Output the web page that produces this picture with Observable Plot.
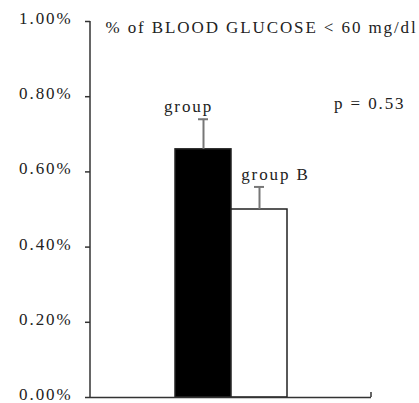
<!DOCTYPE html>
<html>
<head>
<meta charset="utf-8">
<script src="https://cdn.jsdelivr.net/npm/d3@7"></script>
<script src="https://cdn.jsdelivr.net/npm/@observablehq/plot@0.6"></script>
<style>
  html, body { margin: 0; padding: 0; background: #fff; }
</style>
</head>
<body>
<div id="chart"></div>
<script>
const groups = ["group", "group B"];
const values = [0.66, 0.50];
const errors = [0.08, 0.06];
const fills = ["#000000", "#ffffff"];
const yTicks = [0, 0.2, 0.4, 0.6, 0.8, 1.0];
const title = "% of BLOOD GLUCOSE < 60 mg/dl";
const pText = "p = 0.53";

const data = groups.map((g, i) => ({group: g, value: values[i], err: errors[i], fill: fills[i]}));
const errTop = d => d.value + d.err;
const pct = d => d.toFixed(2) + "%";

const axisLines = (index, scales, values, dims) => {
  const g = d3.create("svg:g").attr("stroke", "#333").attr("stroke-width", 1.5);
  const x0 = dims.marginLeft, x1 = dims.width - dims.marginRight;
  const y0 = dims.height - dims.marginBottom, yt = dims.marginTop;
  g.append("line").attr("x1", x0).attr("x2", x0).attr("y1", yt).attr("y2", y0);
  g.append("line").attr("x1", x1).attr("x2", x1).attr("y1", y0).attr("y2", y0 - 5);
  return g.node();
};

const chart = Plot.plot({
  width: 419,
  height: 403,
  marginLeft: 90,
  marginRight: 48,
  marginTop: 21,
  marginBottom: 6,
  style: {
    fontFamily: "'Liberation Serif', 'Times New Roman', serif",
    fontSize: "17px",
    letterSpacing: "1.9px",
    background: "#fff",
    color: "#222"
  },
  x: {domain: groups, paddingInner: 0, paddingOuter: 1.5, axis: null},
  y: {domain: [0, 1], axis: null},
  color: {type: "identity"},
  marks: [
    Plot.axisY({ticks: yTicks, tickFormat: () => "", tickSize: 5, label: null, stroke: "#333", strokeWidth: 1.5}),
    Plot.text(yTicks, {y: d => d, text: pct, frameAnchor: "left", textAnchor: "end", dx: -18, dy: -3, fill: "#222"}),
    Plot.barY(data, {x: "group", y: "value", fill: "fill", stroke: "#222", strokeWidth: 1.5}),
    Plot.ruleX(data, {x: "group", y1: "value", y2: errTop, stroke: "#777", strokeWidth: 2}),
    Plot.tickY(data, {x: "group", y: errTop, insetLeft: 23, insetRight: 23, stroke: "#777", strokeWidth: 2}),
    Plot.ruleY([0], {stroke: "#333", strokeWidth: 1.5}),
    axisLines,
    Plot.text(data.slice(0, 1), {x: "group", y: errTop, text: "group", lineAnchor: "bottom", dx: -15, dy: -7, fill: "#222"}),
    Plot.text(data.slice(1, 2), {x: "group", y: errTop, text: "group", lineAnchor: "bottom", dx: 16, dy: -7, fill: "#222"}),
    Plot.text([title], {frameAnchor: "top-left", textAnchor: "start", lineAnchor: "middle", dx: 15, dy: 6, fill: "#222"}),
    Plot.text([pText], {frameAnchor: "top-right", textAnchor: "end", lineAnchor: "middle", dx: 34, dy: 82, fill: "#222"})
  ]
});
document.getElementById("chart").appendChild(chart);
</script>
</body>
</html>
